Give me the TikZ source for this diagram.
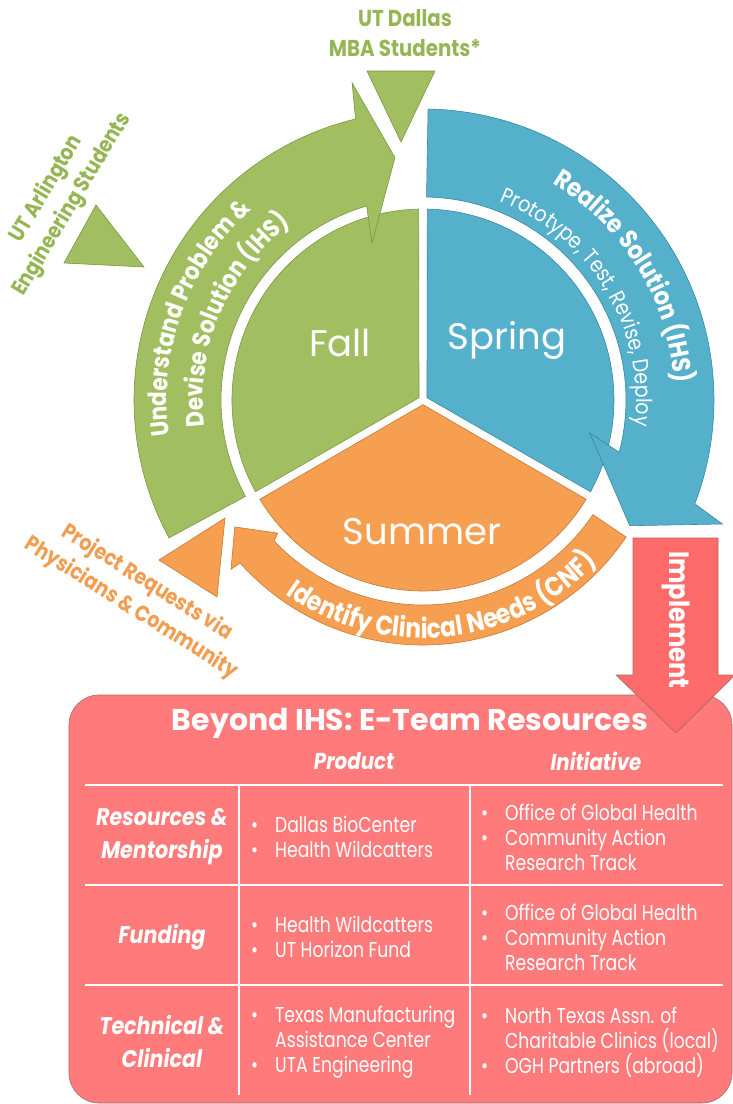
\documentclass[tikz,border=0pt]{standalone}
\usepackage{fontspec}
\setmainfont{Poppins}
\newfontfamily\tw{Poppins}[FakeStretch=0.86]
\newfontfamily\twn{Poppins}[FakeStretch=0.8]
\usetikzlibrary{calc,decorations.text}
\definecolor{ihsgreen}{RGB}{161,191,96}
\definecolor{ihsgreenline}{RGB}{122,150,70}
\definecolor{ihsblue}{RGB}{85,177,203}
\definecolor{ihsblueline}{RGB}{56,136,160}
\definecolor{ihsorange}{RGB}{247,159,80}
\definecolor{ihsorangeline}{RGB}{198,122,56}
\definecolor{ihsred}{RGB}{255,122,122}
\definecolor{ihsredarrow}{RGB}{255,107,107}
\definecolor{ihsredline}{RGB}{165,105,105}
\definecolor{labelgreen}{RGB}{150,181,84}
\definecolor{labelorange}{RGB}{242,158,82}
\newcommand{\bul}{\makebox[24pt][l]{\textbullet}}
\newcommand{\cont}{\hspace*{24pt}}
\tikzset{
  slice/.style={line width=0.6pt},
  ringarrow/.style={line width=0.6pt, line join=miter},
  feeder/.style={line width=0.6pt},
  season/.style={text=white, font=\fontsize{37}{37}\selectfont},
  sidelabel/.style={align=center, font=\tw\bfseries\fontsize{22}{30}\selectfont},
  arctext/.style={decorate, decoration={text along path, text align=center, text color=white, text={#1}}},
  header/.style={text=white, font=\tw\bfseries\itshape\fontsize{23}{23}\selectfont},
  rowlabel/.style={text=white, align=center, font=\tw\bfseries\itshape\fontsize{24}{33}\selectfont},
  cell/.style={text=white, align=left, anchor=west, inner sep=0pt, font=\twn\fontsize{21.5}{25}\selectfont},
  grid/.style={draw=white, line width=1.5pt}
}

\begin{document}
\begin{tikzpicture}[x=1pt,y=1pt]
\useasboundingbox (-423,-704) rectangle (310,400);

% three seasons
\draw[slice, fill=ihsgreen, draw=ihsgreenline] (150:4.6pt) -- (208.7:191pt) arc[start angle=208.7, end angle=91.3, radius=191pt] -- cycle;
\draw[slice, fill=ihsblue, draw=ihsblueline] (30:4.6pt) -- (88.7:191pt) arc[start angle=88.7, end angle=-28.7, radius=191pt] -- cycle;
\draw[slice, fill=ihsorange, draw=ihsorangeline] (270:4.6pt) -- (211.3:191pt) arc[start angle=211.3, end angle=328.7, radius=191pt] -- cycle;
\node[season] (fall) at (-83,57) {Fall};
\node[season] (spring) at (84,60) {Spring};
\node[season] (summer) at (-1,-132) {Summer};

% circular arrows round the pie
\draw[ringarrow, fill=ihsgreen, draw=ihsgreenline]
  (208.5:289pt) arc[start angle=208.5, end angle=103.5, radius=289pt]
  -- (102.6:325pt) -- (96.6:244pt) -- (108:165pt) -- (106.2:202pt)
  arc[start angle=106.2, end angle=208.5, radius=202pt] -- cycle;
\draw[ringarrow, fill=ihsblue, draw=ihsblueline]
  (89:291pt) arc[start angle=89, end angle=-20.9, radius=291pt]
  -- (-22.5:324pt) -- (-31.3:242pt) -- (-11.2:170pt) -- (-14.9:203pt)
  arc[start angle=-14.9, end angle=89, radius=203pt] -- cycle;
\draw[ringarrow, fill=ihsorange, draw=ihsorangeline]
  (-34:245pt) arc[start angle=-34, end angle=-138.3, radius=245pt]
  -- (-138.6:256pt) -- (-146:227pt) -- (-137.5:197pt) -- (-136.6:205pt)
  arc[start angle=-136.6, end angle=-34, radius=205pt] -- cycle;

% text along the arrows
\path[arctext={|\tw\bfseries\fontsize{25}{25}\selectfont|Understand Problem {\&}}]
  (206:256pt) arc[start angle=206, end angle=114, radius=256pt];
\path[arctext={|\tw\bfseries\fontsize{25}{25}\selectfont|Devise Solution (IHS)}]
  (203:220pt) arc[start angle=203, end angle=111, radius=220pt];
\path[arctext={|\tw\bfseries\fontsize{26}{26}\selectfont|Realize Solution (IHS)}]
  (78:252pt) arc[start angle=78, end angle=-15, radius=252pt];
\path[arctext={|\tw\fontsize{22}{22}\selectfont|Prototype, Test, Revise, Deploy}]
  (88:213pt) arc[start angle=88, end angle=-26, radius=213pt];
\path[arctext={|\tw\bfseries\fontsize{27}{27}\selectfont|Identify Clinical Needs (CNF)}]
  (206:238pt) arc[start angle=206, end angle=346, radius=238pt];

% feeders into the cycle
\draw[feeder, fill=ihsgreen, draw=ihsgreenline] (-56,329) -- (12,329) -- (-22,258) -- cycle;
\draw[feeder, fill=ihsgreen, draw=ihsgreenline] (-327,195) -- (-359,137) -- (-279,133) -- cycle;
\draw[feeder, fill=ihsorange, draw=ihsorangeline] (-198,-118) -- (-264,-160) -- (-206,-197) -- cycle;
\node[sidelabel, text=labelgreen, font=\tw\bfseries\fontsize{23}{30}\selectfont] (utd) at (-18,367) {UT Dallas\\MBA Students*};
\node[sidelabel, text=labelgreen, rotate=59] (uta) at (-363.5,203) {UT Arlington\\Engineering Students};
\node[sidelabel, text=labelorange, rotate=-32] (requests) at (-284,-195.5) {Project Requests via\\Physicians \& Community};

% resources table
\draw[fill=ihsred, draw=ihsredline, line width=0.6pt, rounded corners=30pt] (-354,-295) rectangle (309,-703);
\draw[grid] (-338,-385) -- (300,-385);
\draw[grid] (-338,-485) -- (300,-485);
\draw[grid] (-338,-585) -- (300,-585);
\draw[grid] (-184,-385) -- (-184,-695);
\draw[grid] (47,-385) -- (47,-695);
\node[text=white, font=\bfseries\fontsize{30}{30}\selectfont] (title) at (-13,-323) {Beyond IHS: E-Team Resources};
\node[header] (product) at (-69,-361) {Product};
\node[header] (initiative) at (173,-361) {Initiative};
\node[rowlabel] (rowres) at (-261,-436.5) {Resources \&\\Mentorship};
\node[rowlabel] (rowfund) at (-261,-537) {Funding};
\node[rowlabel] (rowtech) at (-261,-641.5) {Technical \&\\Clinical};
\node[cell] (prodres) at (-172,-436.5) {\bul Dallas BioCenter\\\bul Health Wildcatters};
\node[cell] (initres) at (58,-437) {\bul Office of Global Health\\\bul Community Action\\\cont Research Track};
\node[cell] (prodfund) at (-172,-536.5) {\bul Health Wildcatters\\\bul UT Horizon Fund};
\node[cell] (initfund) at (58,-537) {\bul Office of Global Health\\\bul Community Action\\\cont Research Track};
\node[cell] (prodtech) at (-172,-642) {\bul Texas Manufacturing\\\cont Assistance Center\\\bul UTA Engineering};
\node[cell] (inittech) at (58,-642) {\bul North Texas Assn. of\\\cont Charitable Clinics (local)\\\bul OGH Partners (abroad)};

% hand-off arrow into the table
\draw[fill=ihsredarrow, draw=ihsredline, line width=0.6pt] (210,-138) -- (295,-138) -- (295,-275) -- (312,-275) -- (253,-333) -- (193,-275) -- (210,-275) -- cycle;
\node[text=white, rotate=-90, font=\tw\bfseries\fontsize{28}{28}\selectfont] (implement) at (253,-220) {Implement};
\end{tikzpicture}
\end{document}
